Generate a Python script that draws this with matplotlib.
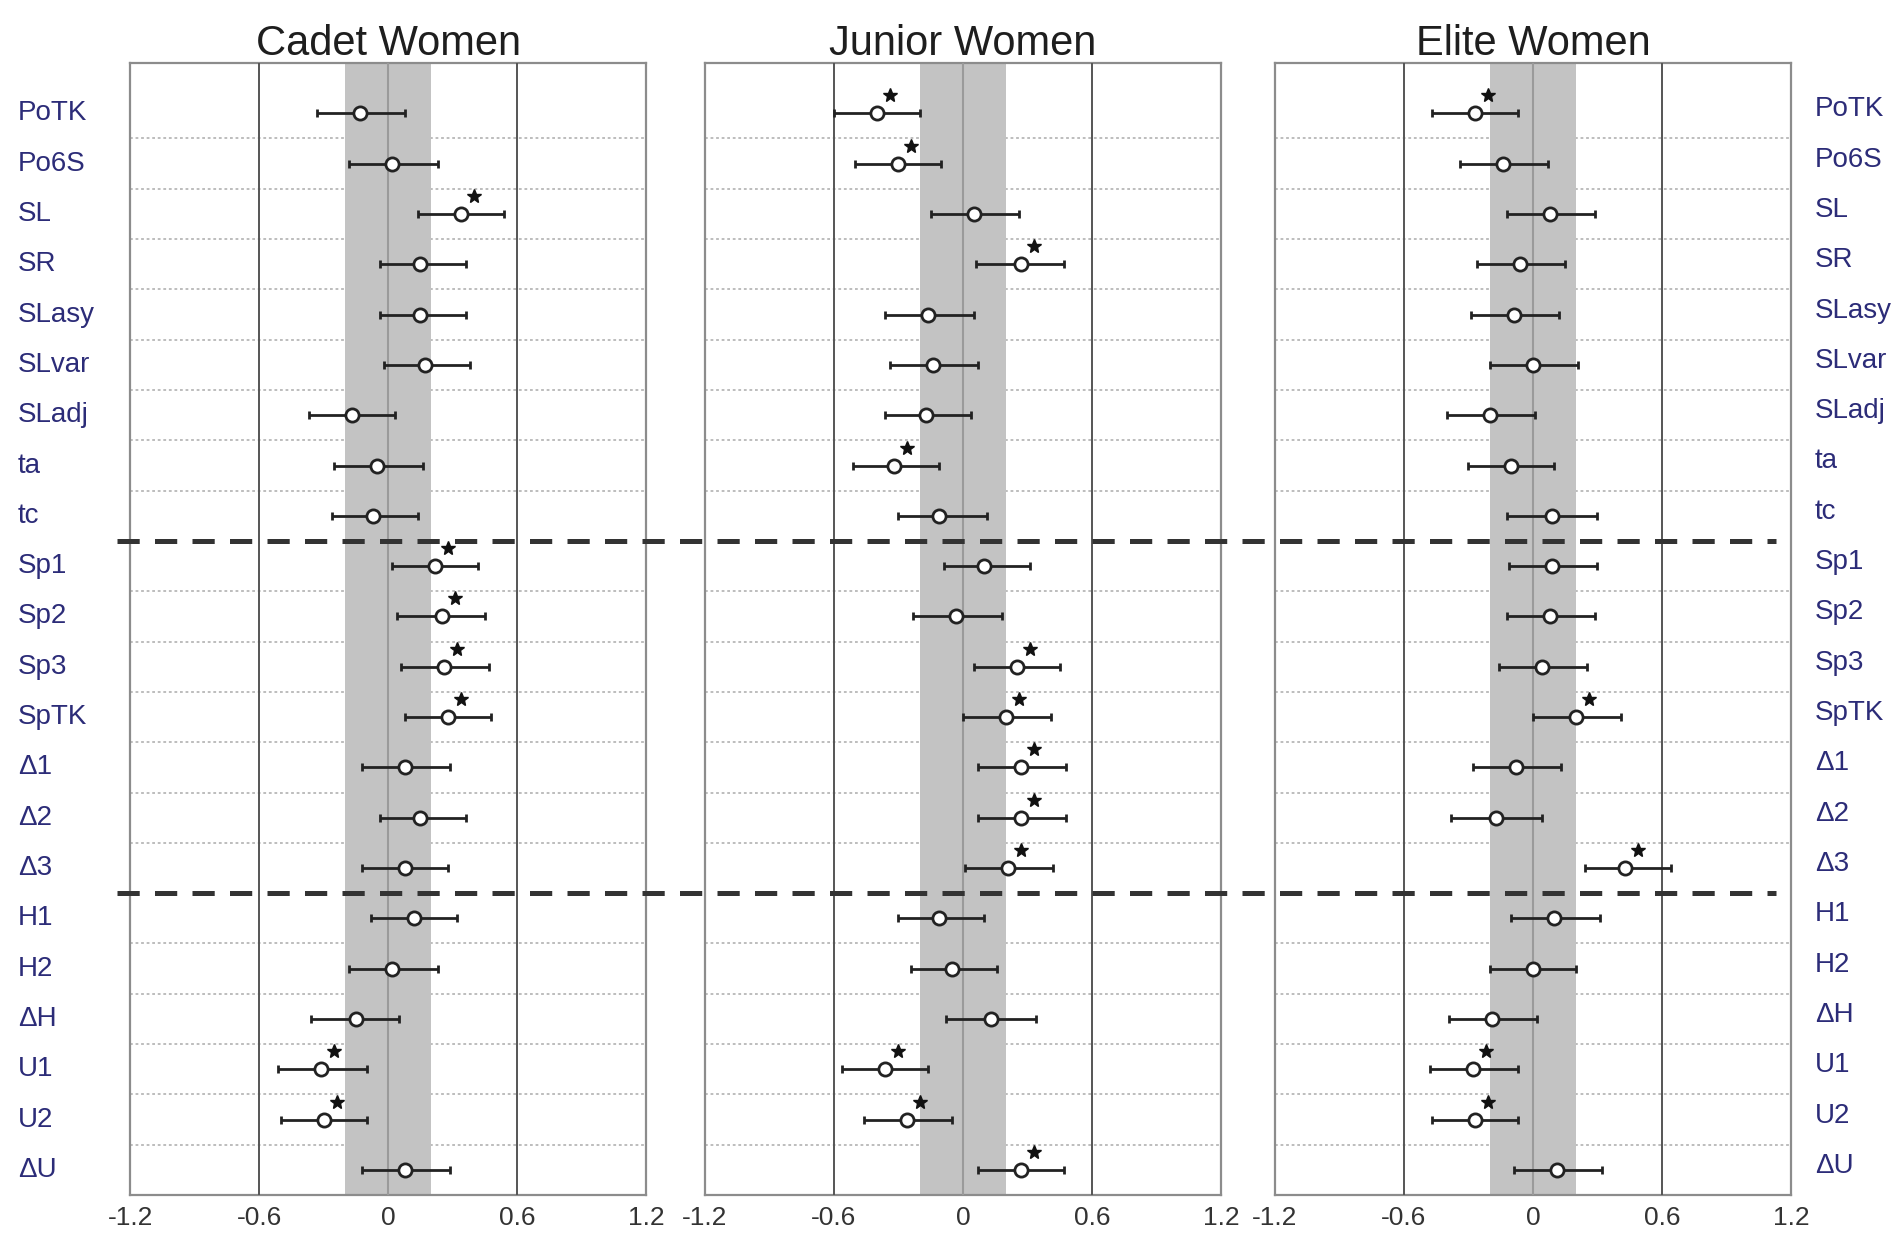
import matplotlib.pyplot as plt
from matplotlib.transforms import blended_transform_factory, ScaledTranslation

plt.rcParams['font.family'] = ['Liberation Sans', 'DejaVu Sans']
plt.rcParams['lines.scale_dashes'] = False

labels = ['PoTK', 'Po6S', 'SL', 'SR', 'SLasy', 'SLvar', 'SLadj', 'ta', 'tc',
          'Sp1', 'Sp2', 'Sp3', 'SpTK', 'Δ1', 'Δ2', 'Δ3',
          'H1', 'H2', 'ΔH', 'U1', 'U2', 'ΔU']
groups = ['Cadet Women', 'Junior Women', 'Elite Women']
xticks = [-1.2, -0.6, 0, 0.6, 1.2]
xticklabels = ['-1.2', '-0.6', '0', '0.6', '1.2']

# effect size, lower / upper limit, significant (1 = star)
cadet_mean = [-0.13, 0.02, 0.34, 0.15, 0.15, 0.17, -0.17, -0.05, -0.07,
              0.22, 0.25, 0.26, 0.28, 0.08, 0.15, 0.08,
              0.12, 0.02, -0.15, -0.31, -0.30, 0.08]
cadet_lo = [-0.33, -0.18, 0.14, -0.04, -0.04, -0.02, -0.37, -0.25, -0.26,
            0.02, 0.04, 0.06, 0.08, -0.12, -0.04, -0.12,
            -0.08, -0.18, -0.36, -0.51, -0.50, -0.12]
cadet_hi = [0.08, 0.23, 0.54, 0.36, 0.36, 0.38, 0.03, 0.16, 0.14,
            0.42, 0.45, 0.47, 0.48, 0.29, 0.36, 0.28,
            0.32, 0.23, 0.05, -0.10, -0.10, 0.29]
cadet_sig = [0, 0, 1, 0, 0, 0, 0, 0, 0,
             1, 1, 1, 1, 0, 0, 0,
             0, 0, 0, 1, 1, 0]

junior_mean = [-0.40, -0.30, 0.05, 0.27, -0.16, -0.14, -0.17, -0.32, -0.11,
               0.10, -0.03, 0.25, 0.20, 0.27, 0.27, 0.21,
               -0.11, -0.05, 0.13, -0.36, -0.26, 0.27]
junior_lo = [-0.60, -0.50, -0.15, 0.06, -0.36, -0.34, -0.36, -0.51, -0.30,
             -0.09, -0.23, 0.05, 0.00, 0.07, 0.07, 0.01,
             -0.30, -0.24, -0.08, -0.56, -0.46, 0.07]
junior_hi = [-0.20, -0.10, 0.26, 0.47, 0.05, 0.07, 0.04, -0.11, 0.11,
             0.31, 0.18, 0.45, 0.41, 0.48, 0.48, 0.42,
             0.10, 0.16, 0.34, -0.16, -0.05, 0.47]
junior_sig = [1, 1, 0, 1, 0, 0, 0, 1, 0,
              0, 0, 1, 1, 1, 1, 1,
              0, 0, 0, 1, 1, 1]

elite_mean = [-0.27, -0.14, 0.08, -0.06, -0.09, 0.00, -0.20, -0.10, 0.09,
              0.09, 0.08, 0.04, 0.20, -0.08, -0.17, 0.43,
              0.10, 0.00, -0.19, -0.28, -0.27, 0.11]
elite_lo = [-0.47, -0.34, -0.12, -0.26, -0.29, -0.20, -0.40, -0.30, -0.12,
            -0.11, -0.12, -0.16, 0.00, -0.28, -0.38, 0.24,
            -0.10, -0.20, -0.39, -0.48, -0.47, -0.09]
elite_hi = [-0.07, 0.07, 0.29, 0.15, 0.12, 0.21, 0.01, 0.10, 0.30,
            0.30, 0.29, 0.25, 0.41, 0.13, 0.04, 0.64,
            0.31, 0.20, 0.02, -0.07, -0.07, 0.32]
elite_sig = [1, 0, 0, 0, 0, 0, 0, 0, 0,
             0, 0, 0, 1, 0, 0, 1,
             0, 0, 0, 1, 1, 0]

means = [cadet_mean, junior_mean, elite_mean]
los = [cadet_lo, junior_lo, elite_lo]
his = [cadet_hi, junior_hi, elite_hi]
sigs = [cadet_sig, junior_sig, elite_sig]

dividers = [9.5, 16.5]
band = 0.2

fig = plt.figure(figsize=(19.02, 12.43), dpi=100)
lefts = [0.0684, 0.3706, 0.6703]
axes = []
rows = list(range(1, len(labels) + 1))

for k in range(3):
    ax = fig.add_axes([lefts[k], 0.0386, 0.2713, 0.9107])
    axes.append(ax)
    ax.set_xlim(-1.2, 1.2)
    ax.set_ylim(len(labels) + 0.5, 0)

    # dotted row separators
    for r in rows[:-1]:
        y = r + 0.5
        if y in dividers:
            continue
        ax.axhline(y, color='#b8b8b8', lw=1.3, ls=(0, (2, 2)), zorder=1)

    ax.axvspan(-band, band, color='#c3c3c3', lw=0, zorder=2)
    ax.axvline(0, color='#9a9a9a', lw=1.5, zorder=3)
    for xv in (-0.6, 0.6):
        ax.axvline(xv, color='#555555', lw=1.4, zorder=3)

    m = means[k]
    lo = [m[i] - los[k][i] for i in range(len(m))]
    hi = [his[k][i] - m[i] for i in range(len(m))]
    ax.errorbar(m, rows, xerr=[lo, hi], fmt='o', color='#222222',
                ecolor='#222222', elinewidth=2.0, capsize=3, capthick=2.0,
                markersize=9.5, markerfacecolor='white',
                markeredgecolor='#222222', markeredgewidth=2.0, zorder=5)

    star_tr = ax.transData + ScaledTranslation(13 / 100, 18 / 100, fig.dpi_scale_trans)
    sx = [m[i] for i in range(len(m)) if sigs[k][i]]
    sy = [rows[i] for i in range(len(m)) if sigs[k][i]]
    ax.plot(sx, sy, ls='none', marker='*', markersize=10.5, color='#111111',
            transform=star_tr, zorder=6, clip_on=False)

    ax.set_xticks(xticks)
    ax.set_xticklabels(xticklabels, fontsize=19, color='#333333')
    ax.tick_params(axis='x', length=0, pad=8)
    ax.set_yticks([])
    for sp in ax.spines.values():
        sp.set_color('#8c8c8c')
        sp.set_linewidth(1.6)

    ax.text(0.5, 1.017, groups[k], transform=ax.transAxes, ha='center',
            va='center', fontsize=30, color='#1e1e1e')

# row labels on both sides
lab_color = '#2c2c78'
tr_left = blended_transform_factory(fig.transFigure, axes[0].transData)
tr_right = blended_transform_factory(fig.transFigure, axes[2].transData)
for r, lab in zip(rows, labels):
    fig.text(18 / 1902, r, lab, transform=tr_left, ha='left', va='center',
             fontsize=20, color=lab_color)
    fig.text(1815 / 1902, r - 0.08, lab, transform=tr_right, ha='left',
             va='center', fontsize=20, color=lab_color)

# dashed group dividers across all panels
for y in dividers:
    line = plt.Line2D([117 / 1902, 1776 / 1902], [y, y], transform=tr_left,
                      color='#333333', lw=3.6, ls=(0, (16, 11)), zorder=10)
    fig.add_artist(line)

fig.savefig('out.png', dpi=100, facecolor='white')
